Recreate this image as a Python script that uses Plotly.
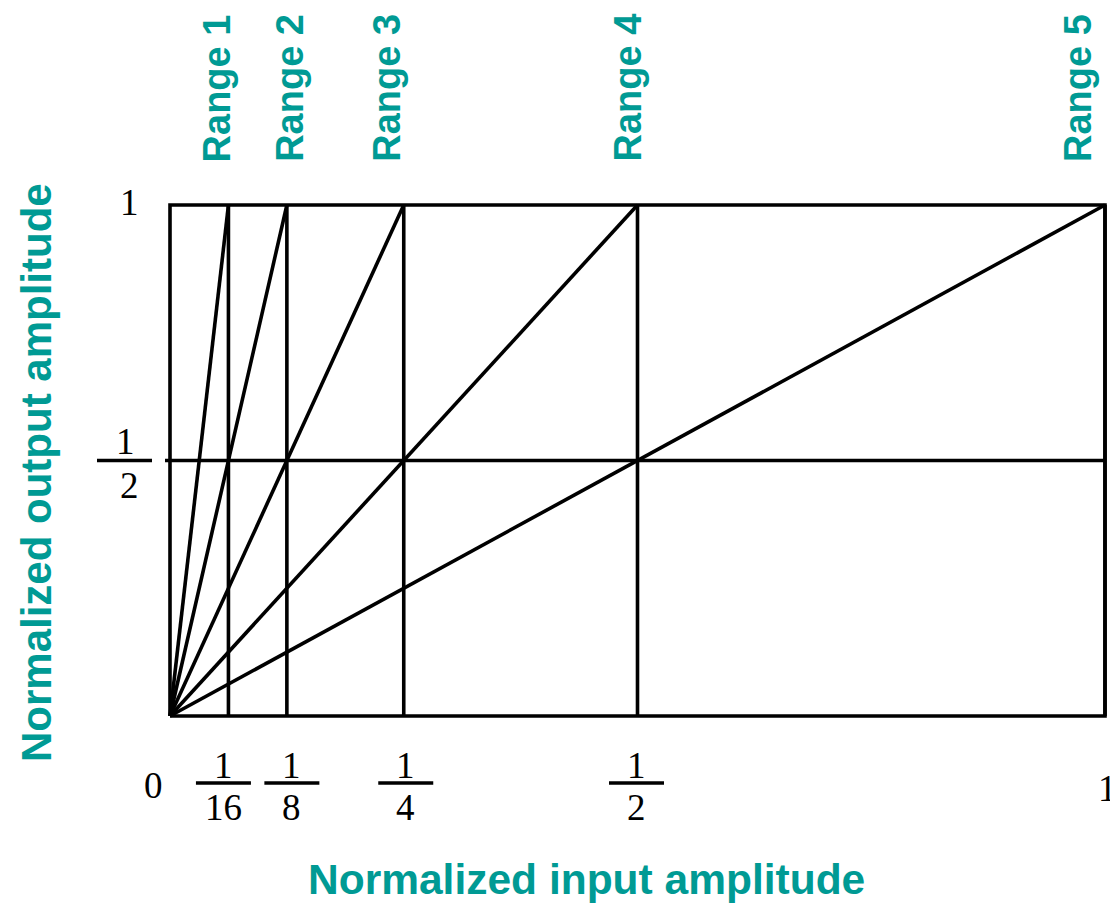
import plotly.graph_objects as go

# ---- data ----
breakpoints = [1/16, 1/8, 1/4, 1/2, 1]
range_labels = ["Range 1", "Range 2", "Range 3", "Range 4", "Range 5"]
x_tick_vals = [1/16, 1/8, 1/4, 1/2]
x_tick_num = ["1", "1", "1", "1"]
x_tick_den = ["16", "8", "4", "2"]
y_half = 0.5
y_max = 1.0
x_max = 1.0

# ---- style / geometry ----
TEAL = "#009a94"
OFF = 8                      # page body margin of the html page
W, H = 1118 - OFF, 903 - OFF
X0PX, SX = 170 - OFF, 935.0  # pixel of x=0, pixels per unit
Y0PX, SY = 716 - OFF, 511.0  # pixel of y=0, pixels per unit
LW = 3.6
range_label_shift = [-11, 3, -17, -10, -27]
tick_shift = [-5, 5, 2, -1]
bar_w_px = 55
num_dy, bar_dy, den_dy = -49, -67, -91   # pixels relative to y=0 (positive = up)
SERIF = "Liberation Serif, Times New Roman, serif"
SANS = "Liberation Sans, Arial, sans-serif"
DIGIT = 37

fig = go.Figure()

line_style = dict(color="black", width=LW)
# box
fig.add_trace(go.Scatter(x=[0, x_max, x_max, 0, 0], y=[0, 0, y_max, y_max, 0],
                         mode="lines", line=line_style, hoverinfo="skip"))
# diagonals and verticals
for b in breakpoints:
    fig.add_trace(go.Scatter(x=[0, b], y=[0, y_max], mode="lines",
                             line=line_style, hoverinfo="skip"))
    fig.add_trace(go.Scatter(x=[b, b], y=[0, y_max], mode="lines",
                             line=line_style, hoverinfo="skip"))
# horizontal line at 1/2 (starts slightly left of the box)
fig.add_trace(go.Scatter(x=[-5 / SX, x_max], y=[y_half, y_half], mode="lines",
                         line=line_style, hoverinfo="skip"))

# fraction bars for x ticks
for t, s in zip(x_tick_vals, tick_shift):
    c = t + s / SX
    fig.add_trace(go.Scatter(x=[c - bar_w_px / 2 / SX, c + bar_w_px / 2 / SX],
                             y=[bar_dy / SY, bar_dy / SY], mode="lines",
                             line=line_style, hoverinfo="skip"))
# fraction bar for y = 1/2
yc = -45.5 / SX
fig.add_trace(go.Scatter(x=[yc - bar_w_px / 2 / SX, yc + bar_w_px / 2 / SX],
                         y=[y_half, y_half], mode="lines",
                         line=line_style, hoverinfo="skip"))

digit_font = dict(family=SERIF, size=DIGIT, color="black")
ann = []
# x tick fractions
for t, s, n, d in zip(x_tick_vals, tick_shift, x_tick_num, x_tick_den):
    ann.append(dict(x=t, y=0, text=n, showarrow=False, xshift=s, yshift=num_dy,
                    font=digit_font))
    ann.append(dict(x=t, y=0, text=d, showarrow=False, xshift=s, yshift=den_dy,
                    font=digit_font))
# x end labels 0 and 1
ann.append(dict(x=0, y=0, text="0", showarrow=False, xshift=-17, yshift=-69,
                font=digit_font))
ann.append(dict(x=x_max, y=0, text="1", showarrow=False, xshift=2, yshift=-72,
                font=digit_font))
# y labels
ann.append(dict(x=0, y=y_max, text="1", showarrow=False, xshift=-41, yshift=3,
                font=digit_font))
ann.append(dict(x=0, y=y_half, text="1", showarrow=False, xshift=-45, yshift=19,
                font=digit_font))
ann.append(dict(x=0, y=y_half, text="2", showarrow=False, xshift=-41, yshift=-25,
                font=digit_font))
# range labels
for b, lab, s in zip(breakpoints, range_labels, range_label_shift):
    ann.append(dict(x=b, y=y_max, text=lab, showarrow=False, textangle=-90,
                    xshift=s, yshift=41, xanchor="center", yanchor="bottom",
                    font=dict(family=SANS, size=38, color=TEAL, weight="bold")))
# axis titles
ann.append(dict(xref="paper", yref="paper", x=(37 - OFF) / W, y=1 - (473 - OFF) / H,
                xanchor="center", yanchor="middle",
                text="Normalized output amplitude", showarrow=False, textangle=-90,
                font=dict(family=SANS, size=42, color=TEAL, weight="bold")))
ann.append(dict(xref="paper", yref="paper", x=(586 - OFF) / W, y=1 - (879 - OFF) / H,
                xanchor="center", yanchor="middle",
                text="Normalized input amplitude", showarrow=False,
                font=dict(family=SANS, size=42.5, color=TEAL, weight="bold")))

fig.update_layout(
    width=W, height=H, margin=dict(l=0, r=0, t=0, b=0),
    paper_bgcolor="white", plot_bgcolor="white", showlegend=False,
    xaxis=dict(range=[-X0PX / SX, (W - X0PX) / SX], visible=False, fixedrange=True),
    yaxis=dict(range=[-(H - Y0PX) / SY, Y0PX / SY], visible=False, fixedrange=True),
    annotations=ann,
)
fig.write_html("out.html", config={"displayModeBar": False})
